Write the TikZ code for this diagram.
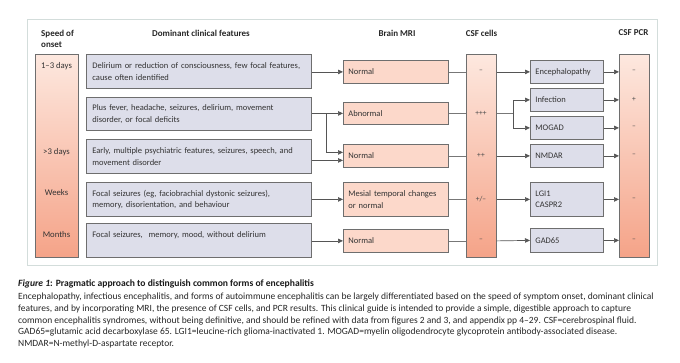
\documentclass[tikz,border=0pt]{standalone}
\usepackage{fontspec}
\setmainfont{Carlito}
\usetikzlibrary{arrows.meta,calc}
\definecolor{peach}{HTML}{FCD8CA}
\definecolor{lav}{HTML}{DDDEEA}
\definecolor{bord}{HTML}{6E6E6E}
\definecolor{colTop}{HTML}{FDE8DF}
\definecolor{colBot}{HTML}{F5A388}
\definecolor{framec}{HTML}{D3DDDB}
\definecolor{txt}{HTML}{333333}
\definecolor{linec}{HTML}{555555}
\begin{document}
\begin{tikzpicture}[x=1pt,y=-1pt,
  every node/.style={font=\fontsize{8.5}{11.6}\selectfont, text=txt},
  featbox/.style={draw=bord, fill=lav, line width=0.8pt, anchor=north west,
    minimum width=225, minimum height=34, text width=213, align=left, inner xsep=6, inner ysep=0},
  mribox/.style={draw=bord, fill=peach, line width=0.8pt, anchor=north west,
    minimum width=105, minimum height=23, text width=95, align=left, inner xsep=5, inner ysep=0},
  diagbox/.style={draw=bord, fill=lav, line width=0.8pt, anchor=north west,
    minimum width=73, minimum height=23, text width=63, align=left, inner xsep=5, inner ysep=0},
  colbox/.style={draw=bord, line width=0.8pt, anchor=north west, top color=colTop, bottom color=colBot,
    minimum height=203, inner sep=0},
  hdr/.style={font=\bfseries\fontsize{9}{11}\selectfont, text=black!85},
  clab/.style={font=\fontsize{7.5}{9}\selectfont, text=black!70},
  slab/.style={font=\fontsize{8.7}{10}\selectfont, text=txt},
  arr/.style={draw=linec, line width=0.7pt, -{Triangle[length=5pt,width=4.5pt]}},
  ln/.style={draw=linec!80, line width=0.7pt},
]
\useasboundingbox (0,0) rectangle (680,362);
\node[draw=framec, line width=0.9pt, anchor=north west, minimum width=630, minimum height=246, inner sep=0] (frame) at (27,19) {};

% headers
\node[hdr, align=left, anchor=west, inner sep=0] (h1) at (41,38.5) {Speed of\\onset};
\node[hdr, inner sep=0] (h2) at (201,33) {Dominant clinical features};
\node[hdr, inner sep=0] (h3) at (397,33) {Brain MRI};
\node[hdr, inner sep=0] (h4) at (481.5,33) {CSF cells};
\node[hdr, inner sep=0] (h5) at (633.5,33) {CSF PCR};

% columns
\node[colbox, minimum width=43] (speed) at (35,54) {};
\node[colbox, minimum width=30] (csf) at (466,54) {};
\node[colbox, minimum width=30] (pcr) at (619,54) {};

\node[slab] (s1) at (56.5,66) {1–3 days};
\node[slab] (s2) at (56.5,152) {>3 days};
\node[slab] (s3) at (56.5,193) {Weeks};
\node[slab] (s4) at (56.5,235) {Months};

% features
\node[featbox] (f1) at (86,54) {\mbox{Delirium or reduction of consciousness, few focal features,}\\cause often identified};
\node[featbox, minimum height=33] (f2) at (86,97) {Plus fever, headache, seizures, delirium, movement\\disorder, or focal deficits};
\node[featbox] (f3) at (86,139) {\mbox{Early, multiple psychiatric features, seizures, speech, and}\\movement disorder};
\node[featbox] (f4) at (86,182) {Focal seizures (eg, faciobrachial dystonic seizures),\\memory, disorientation, and behaviour};
\node[featbox] (f5) at (86,223) {Focal seizures,\ \ memory, mood, without delirium\\\mbox{}};

% MRI
\node[mribox] (m1) at (343,60) {Normal};
\node[mribox, minimum height=22] (m2) at (343,102) {Abnormal};
\node[mribox] (m3) at (343,144) {Normal};
\node[mribox, minimum height=34] (m4) at (343,182) {\mbox{Mesial temporal changes}\\or normal};
\node[mribox] (m5) at (343,229) {Normal};

% CSF labels
\node[clab] (c1) at (481,71.5) {–};
\node[clab] (c2) at (481,113) {+++};
\node[clab] (c3) at (481,155.5) {++};
\node[clab] (c4) at (481,199) {+/–};
\node[clab] (c5) at (481,240.5) {–};

% diagnoses
\node[diagbox] (d1) at (530,60) {Encephalopathy};
\node[diagbox] (d2) at (530,88) {Infection};
\node[diagbox] (d3) at (530,116) {MOGAD};
\node[diagbox] (d4) at (530,144) {NMDAR};
\node[diagbox, minimum height=34] (d5) at (530,182) {LGI1\\CASPR2};
\node[diagbox, minimum height=24] (d6) at (530,228) {GAD65};

% PCR labels
\node[clab] (p1) at (634,71.5) {–};
\node[clab] (p2) at (634,99.5) {+};
\node[clab] (p3) at (634,127.5) {–};
\node[clab] (p4) at (634,155.5) {–};
\node[clab] (p5) at (634,199) {–};
\node[clab] (p6) at (634,240) {–};

% features -> MRI
\draw[arr] (f1.east |- m1.west) -- (m1.west);
\draw[arr] (f2.east |- m2.west) -- (m2.west);
\coordinate (br) at ($(f2.east |- m2.west)+(15,0)$);
\draw[arr] (br) |- ($(m3.west)+(0,-3.5)$);
\draw[arr] ($(f3.east)+(0,4)$) -- ($(m3.west)+(0,4.5)$);
\draw[arr] (f4.east |- m4.west) -- (m4.west);
\draw[arr] (f5.east |- m5.west) -- (m5.west);

% MRI -> CSF
\foreach \m in {m1,m2,m3,m4,m5} \draw[ln] (\m.east) -- (\m.east -| csf.west);

% CSF -> diagnoses
\draw[arr] (m1.east -| csf.east) -- (d1.west);
\coordinate (fk) at ($(m2.east -| csf.east)+(17,0)$);
\draw[ln] (m2.east -| csf.east) -- (fk);
\draw[arr] (fk) |- (d2.west);
\draw[arr] (fk) |- (d3.west);
\draw[arr] (m3.east -| csf.east) -- (d4.west);
\draw[arr] (m4.east -| csf.east) -- (d5.west);
\draw[arr] (m5.east -| csf.east) -- (d6.west);

% diagnoses -> PCR
\foreach \d in {d1,d2,d3,d4,d5,d6} \draw[arr] (\d.east) -- (\d.east -| pcr.west);

% caption
\node[anchor=west, inner sep=0, font=\bfseries\fontsize{9.6}{11.7}\selectfont, text=black!90] (cap) at (18,283.5)
  {\textit{Figure 1}: Pragmatic approach to distinguish common forms of encephalitis};
\node[anchor=north west, inner sep=0, align=left, font=\fontsize{9.5}{11.7}\selectfont, text=black!85] (body) at (18,293)
  {Encephalopathy, infectious encephalitis, and forms of autoimmune encephalitis can be largely differentiated based on the speed of symptom onset, dominant clinical\\
   features, and by incorporating MRI, the presence of CSF cells, and PCR results. This clinical guide is intended to provide a simple, digestible approach to capture\\
   common encephalitis syndromes, without being definitive, and should be refined with data from figures 2 and 3, and appendix pp 4–29. CSF=cerebrospinal fluid.\\
   GAD65=glutamic acid decarboxylase 65. LGI1=leucine-rich glioma-inactivated 1. MOGAD=myelin oligodendrocyte glycoprotein antibody-associated disease.\\
   NMDAR=N-methyl-D-aspartate receptor.};
\end{tikzpicture}
\end{document}
